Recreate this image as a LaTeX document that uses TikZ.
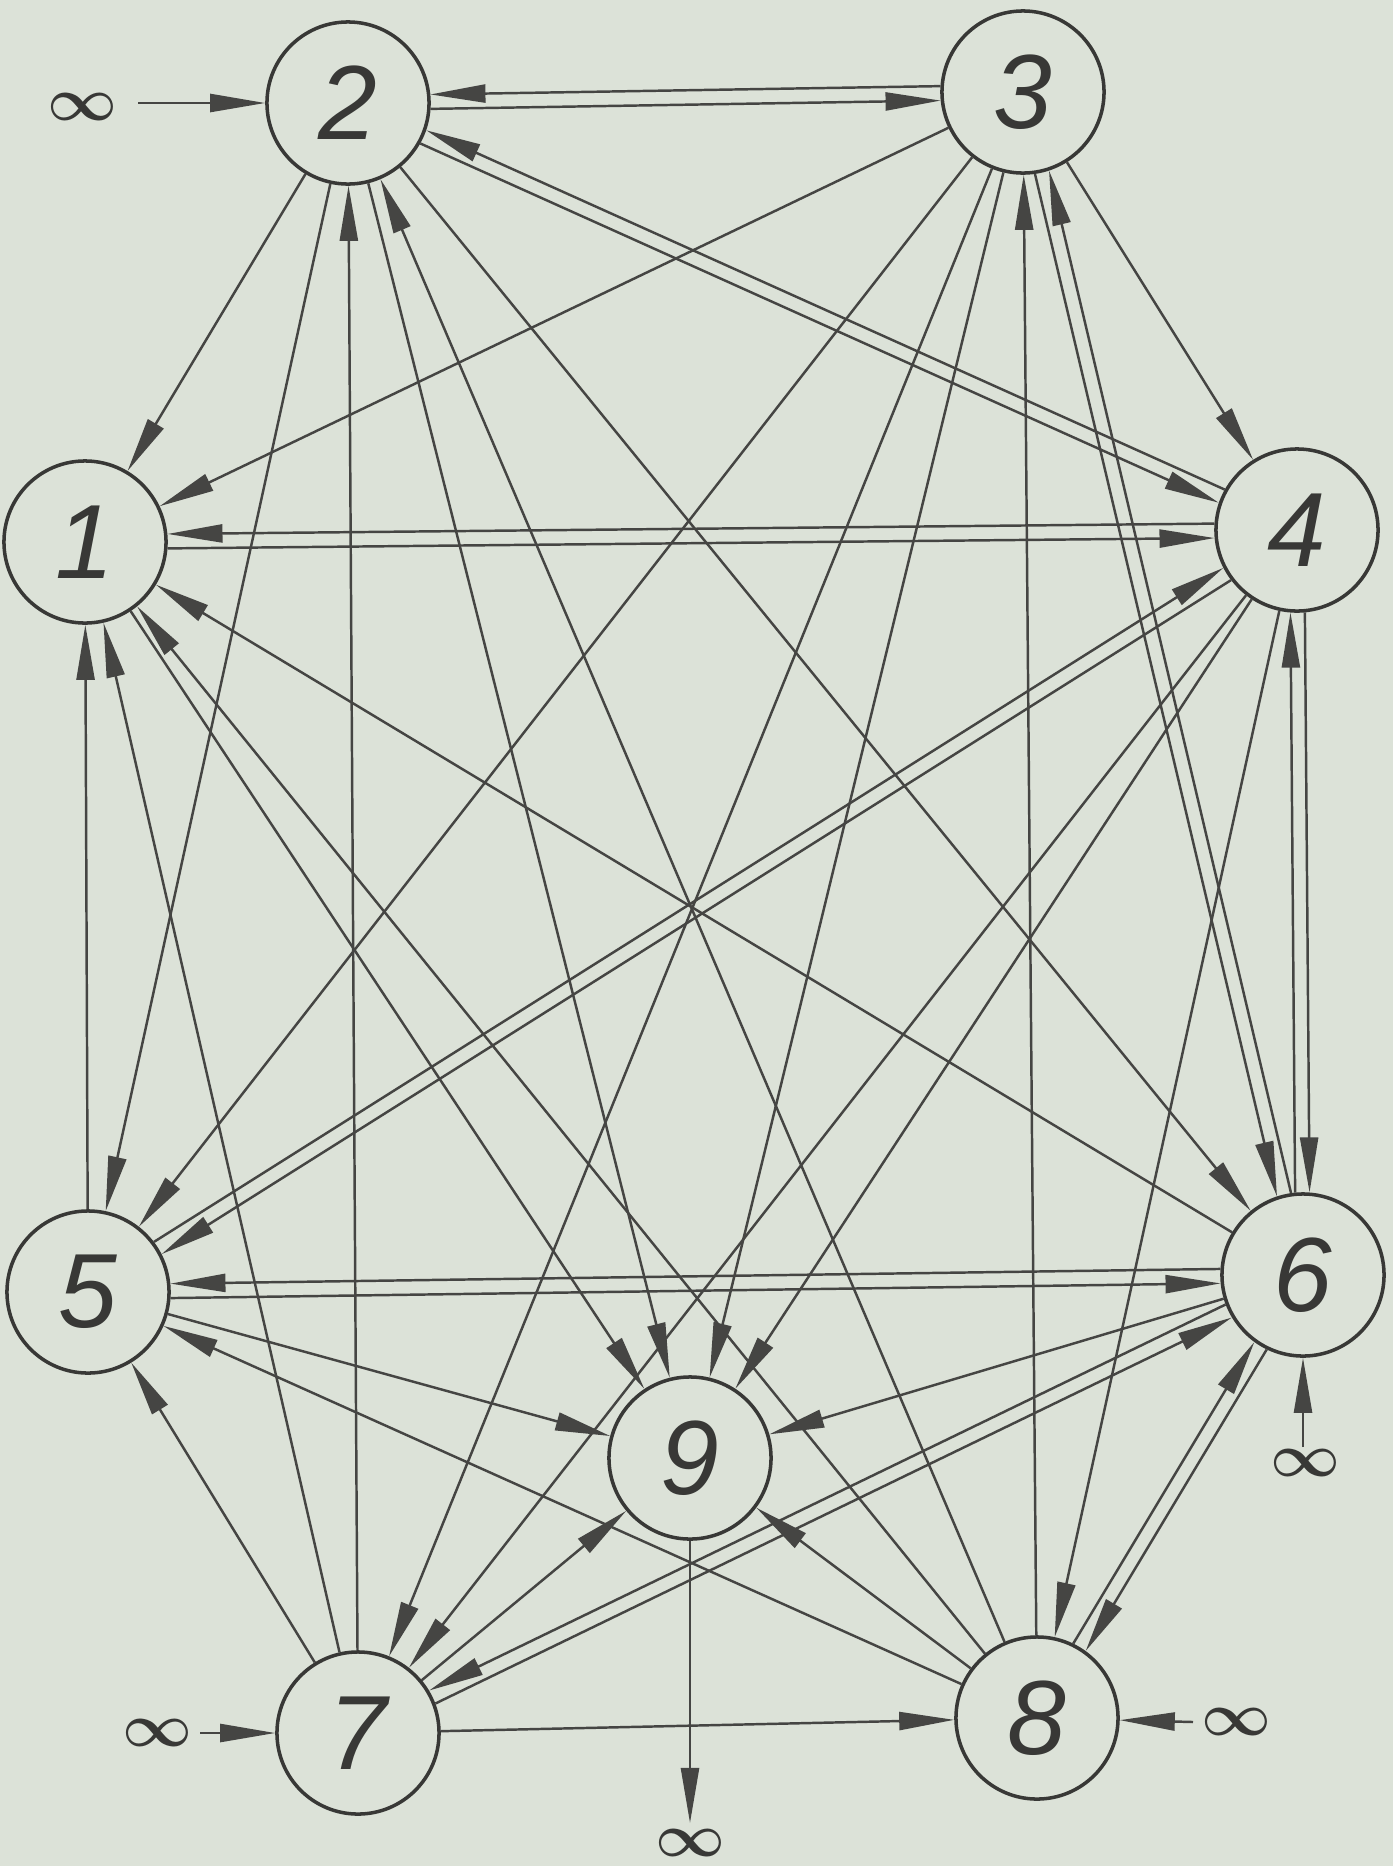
\documentclass[tikz,border=0pt]{standalone}
\usepackage{fontspec}
\usepackage{tikz}
\usetikzlibrary{arrows.meta,calc}
\newfontfamily\digitfont{Liberation Sans}
\definecolor{paperCol}{HTML}{DCE2D8}
\definecolor{inkCol}{HTML}{383836}
\definecolor{flowCol}{HTML}{454543}
\newcommand{\rad}{0.828cm}
\tikzset{
  vtx/.style={circle, draw=inkCol, fill=paperCol, line width=1pt, minimum size=1.62cm, inner sep=0pt,
              font=\digitfont\itshape\fontsize{30}{30}\selectfont, text=inkCol},
  flow/.style={draw=flowCol, line width=0.7pt, -{Triangle[length=5.5mm,width=1.8mm]}}, % one arc
  inf/.style={font=\fontsize{16}{16}\selectfont\boldmath, text=inkCol, inner sep=0pt},
}
% two parallel arcs #1->#2 and #2->#1, #3 = side (+ left lane, - right lane)
\newcommand{\dbl}[3]{%
  \pgfmathsetmacro{\dpos}{#3}\pgfmathsetmacro{\dneg}{-(#3)}%
  \draw[flow] ($(#1)!\rad!\dpos:(#2)$) -- ($(#2)!\rad!\dneg:(#1)$);
  \draw[flow] ($(#2)!\rad!\dpos:(#1)$) -- ($(#1)!\rad!\dneg:(#2)$);}

\begin{document}
\begin{tikzpicture}[x=0.01cm, y=-0.01cm]
  \fill[paperCol] (0,0) rectangle (1393,1866);
  \useasboundingbox (0,0) rectangle (1393,1866);

  \node[vtx] (n1) at (85,542)   {1};
  \node[vtx] (n2) at (348,103)  {2};
  \node[vtx] (n3) at (1023,92)  {3};
  \node[vtx] (n4) at (1297,530) {4};
  \node[vtx] (n5) at (88,1292)  {5};
  \node[vtx] (n6) at (1303,1275){6};
  \node[vtx] (n7) at (358,1733) {7};
  \node[vtx] (n8) at (1037,1718){8};
  \node[vtx] (n9) at (690,1458) {9};

  % sources and sink
  \node[inf] (inf2) at (82,107)   {$\infty$};
  \node[inf] (inf7) at (157,1733) {$\infty$};
  \node[inf] (inf8) at (1236,1722){$\infty$};
  \node[inf] (inf6) at (1305,1463){$\infty$};
  \node[inf] (inf9) at (690,1843) {$\infty$};
  \coordinate (src2) at (138,103);
  \coordinate (src7) at (200,1733);
  \coordinate (src8) at (1193,1722);
  \coordinate (src6) at (1303,1447);
  \coordinate (snk9) at (690,1823);
  \draw[flow] (src2) -- (n2);
  \draw[flow] (src7) -- (n7);
  \draw[flow] (src8) -- (n8);
  \draw[flow] (src6) -- (n6);
  \draw[flow] (n9) -- (snk9);

  % single arcs
  \foreach \a/\b in {2/1,3/1,5/1,6/1,7/1,8/1,1/9,
                     2/5,2/6,7/2,8/2,2/9,
                     3/4,3/5,3/7,8/3,3/9,
                     4/7,4/8,4/9,
                     5/9,7/5,8/5,6/9,
                     7/8,7/9,8/9}
    \draw[flow] (n\a) -- (n\b);

  % arcs both ways
  \dbl{n1}{n4}{-5}
  \dbl{n2}{n3}{-5}
  \dbl{n2}{n4}{-5}
  \dbl{n4}{n5}{5}
  \dbl{n3}{n6}{-5}
  \dbl{n4}{n6}{5}
  \dbl{n5}{n6}{-5}
  \dbl{n6}{n7}{-5}
  \dbl{n6}{n8}{5}
\end{tikzpicture}
\end{document}
